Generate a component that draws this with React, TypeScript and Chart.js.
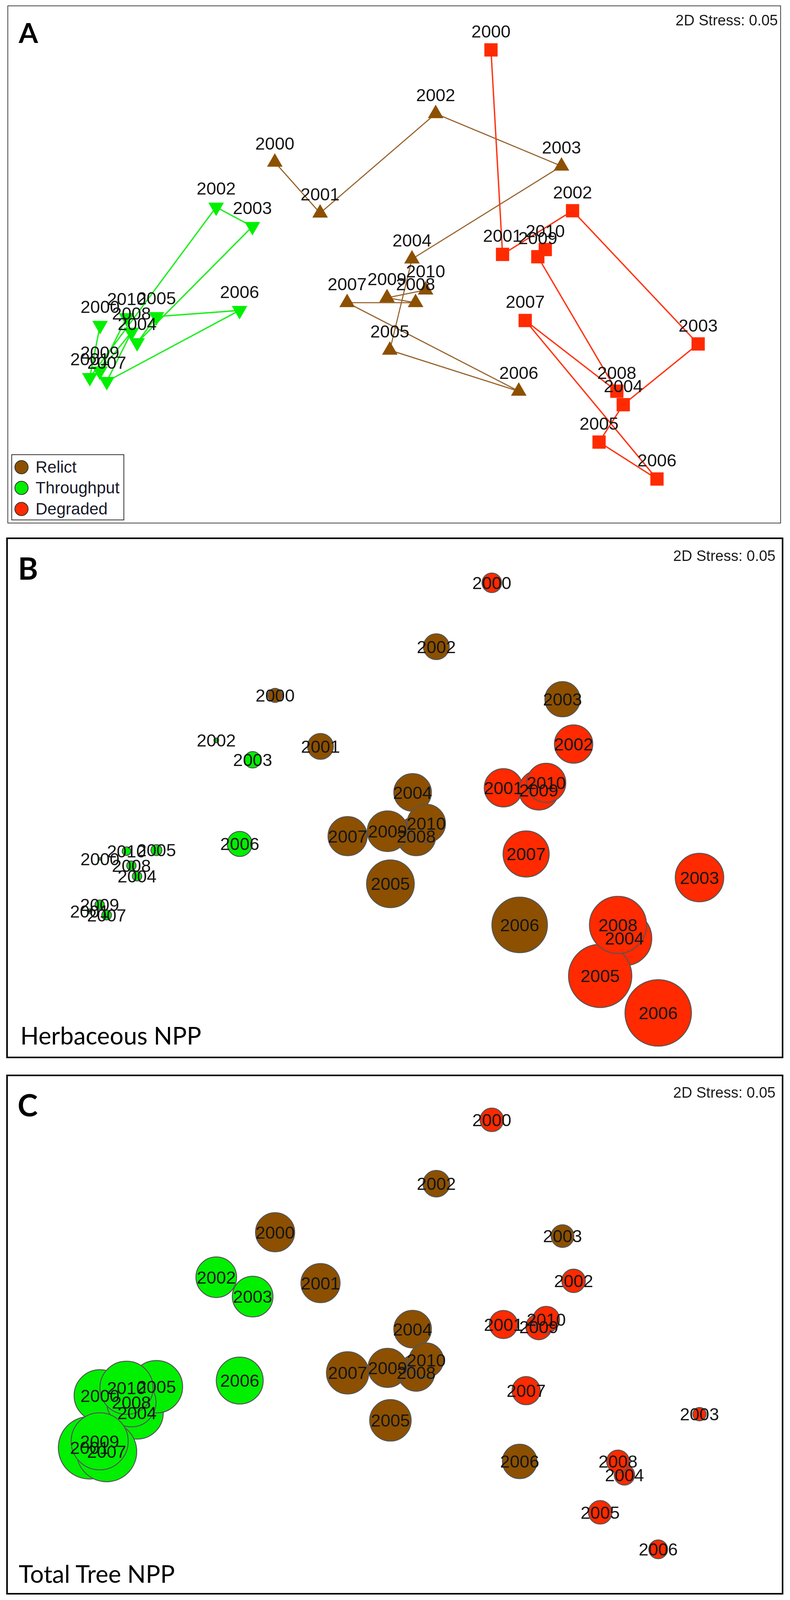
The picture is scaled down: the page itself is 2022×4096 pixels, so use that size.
import React, { useEffect, useRef } from 'react';
import { Chart, registerables } from 'chart.js';

Chart.register(...registerables);

// ---- Data (MDS ordination coordinates, shared by all three panels) ----
const YEARS = ['2000', '2001', '2002', '2003', '2004', '2005', '2006', '2007', '2008', '2009', '2010'];

const RELICT_X = [-0.464, -0.288, 0.161, 0.65, 0.069, -0.017, 0.484, -0.183, 0.083, -0.028, 0.122];
const RELICT_Y = [0.396, 0.199, 0.584, 0.381, 0.021, -0.332, -0.491, -0.148, -0.148, -0.129, -0.099];

const THROUGHPUT_X = [-1.143, -1.183, -0.692, -0.551, -0.999, -0.924, -0.601, -1.117, -1.021, -1.144, -1.04];
const THROUGHPUT_Y = [-0.236, -0.438, 0.222, 0.147, -0.303, -0.202, -0.178, -0.453, -0.262, -0.413, -0.206];

const DEGRADED_X = [0.376, 0.421, 0.693, 1.181, 0.89, 0.796, 1.021, 0.509, 0.865, 0.558, 0.587];
const DEGRADED_Y = [0.831, 0.039, 0.208, -0.308, -0.543, -0.688, -0.831, -0.217, -0.491, 0.03, 0.058];

// Bubble magnitudes (relative NPP)
const HERB_RELICT = [1.8, 3.3, 3.3, 4.5, 4.8, 6.1, 7.1, 5.0, 5.0, 5.2, 4.9];
const HERB_THROUGHPUT = [0.3, 0.6, 0.6, 2.1, 1.2, 1.4, 3.2, 1.25, 1.2, 1.2, 1.1];
const HERB_DEGRADED = [2.5, 4.9, 4.9, 6.2, 7.0, 8.1, 8.5, 5.9, 7.3, 5.1, 5.0];

const TREE_RELICT = [5.0, 5.0, 3.4, 2.9, 4.8, 5.3, 4.4, 5.4, 4.7, 5.0, 4.4];
const TREE_THROUGHPUT = [6.6, 8.0, 5.2, 5.2, 6.7, 6.7, 6.0, 7.7, 6.3, 7.3, 6.8];
const TREE_DEGRADED = [3.0, 3.6, 3.0, 1.7, 2.6, 3.0, 2.4, 3.6, 2.9, 3.3, 3.4];

const GROUPS = ['Relict', 'Throughput', 'Degraded'];

// ---- Styles ----
const COLORS = { relict: '#8C5000', throughput: '#00F000', degraded: '#FF2A00' };
const LINE_COLORS = { relict: '#96612A', throughput: '#1EEE1E', degraded: '#FF3514' };
const BUBBLE_PX = 10;
const LABEL_FONT = '45px "Liberation Sans", Arial, sans-serif';

function pts(xs: number[], ys: number[]) {
  return xs.map((x, i) => ({ x, y: ys[i] }));
}
function bubbles(xs: number[], ys: number[], vs: number[]) {
  return xs.map((x, i) => ({ x, y: ys[i], r: vs[i] * BUBBLE_PX }));
}

const yearLabels = {
  id: 'yearLabels',
  afterDatasetDraw(chart: any, args: any, opts: any) {
    const ctx = chart.ctx;
    ctx.save();
    ctx.font = LABEL_FONT;
    ctx.fillStyle = opts.color || '#111';
    ctx.textAlign = 'center';
    ctx.textBaseline = 'alphabetic';
    args.meta.data.forEach((el: any, i: number) => {
      ctx.fillText(YEARS[i], el.x, el.y + (opts.dy || 0));
    });
    ctx.restore();
  },
};

const baseOptions = (dy: number) => ({
  animation: false,
  responsive: false,
  events: [],
  layout: { padding: 0, autoPadding: false },
  scales: {
    x: { type: 'linear', min: -1.5, max: 1.5, display: false },
    y: { type: 'linear', min: -1, max: 1, display: false },
  },
  plugins: {
    legend: { display: false },
    tooltip: { enabled: false },
    yearLabels: { dy, color: '#151515' },
  },
});

function trajectoryConfig() {
  return {
    type: 'scatter',
    data: {
      datasets: [
        {
          label: 'Degraded',
          data: pts(DEGRADED_X, DEGRADED_Y),
          showLine: true,
          tension: 0,
          borderColor: LINE_COLORS.degraded,
          borderWidth: 3.5,
          pointStyle: 'rect',
          pointRadius: 24,
          pointBackgroundColor: COLORS.degraded,
          pointBorderWidth: 0,
          clip: false,
        },
        {
          label: 'Relict',
          data: pts(RELICT_X, RELICT_Y),
          showLine: true,
          tension: 0,
          borderColor: LINE_COLORS.relict,
          borderWidth: 2.8,
          pointStyle: 'triangle',
          pointRadius: 23,
          pointBackgroundColor: COLORS.relict,
          pointBorderWidth: 0,
          clip: false,
        },
        {
          label: 'Throughput',
          data: pts(THROUGHPUT_X, THROUGHPUT_Y),
          showLine: true,
          tension: 0,
          borderColor: LINE_COLORS.throughput,
          borderWidth: 3.5,
          pointStyle: 'triangle',
          pointRotation: 180,
          pointRadius: 23,
          pointBackgroundColor: COLORS.throughput,
          pointBorderWidth: 0,
          clip: false,
        },
      ],
    },
    options: baseOptions(-32),
    plugins: [yearLabels],
  };
}

function bubbleConfig(rel: number[], thr: number[], deg: number[]) {
  const common = { borderColor: '#555555', borderWidth: 2.5, clip: false };
  return {
    type: 'bubble',
    data: {
      datasets: [
        { label: 'Degraded', data: bubbles(DEGRADED_X, DEGRADED_Y, deg), backgroundColor: COLORS.degraded, ...common },
        { label: 'Relict', data: bubbles(RELICT_X, RELICT_Y, rel), backgroundColor: COLORS.relict, ...common },
        { label: 'Throughput', data: bubbles(THROUGHPUT_X, THROUGHPUT_Y, thr), backgroundColor: COLORS.throughput, ...common },
      ],
    },
    options: baseOptions(16),
    plugins: [yearLabels],
  };
}

function ChartCanvas({ width, height, make }: { width: number; height: number; make: () => any }) {
  const ref = useRef<HTMLCanvasElement | null>(null);
  useEffect(() => {
    const chart = new Chart(ref.current as HTMLCanvasElement, make());
    return () => chart.destroy();
  }, []);
  return <canvas ref={ref} width={width} height={height} style={{ display: 'block', width, height }} />;
}

const abs = (s: any) => ({ position: 'absolute', margin: 0, whiteSpace: 'nowrap', ...s });
const LIB = '"Liberation Sans", Arial, sans-serif';
const LATO = 'Lato, "Open Sans", sans-serif';

function Panel({ left, top, width, height, border, make }: any) {
  return (
    <div style={abs({ left, top, width, height, boxSizing: 'border-box', border, background: '#fff' })}>
      <ChartCanvas width={width - 2 * parseFloat(border)} height={height - 2 * parseFloat(border)} make={make} />
    </div>
  );
}

export default function App() {
  useEffect(() => {
    document.body.style.margin = '0';
  }, []);

  const stress = (right: number, baseline: number) => (
    <div style={abs({ right: 2022 - right, top: baseline - 0.8465 * 38, font: `38px ${LIB}`, lineHeight: '38px', color: '#1a1a1a', textAlign: 'right' })}>
      2D Stress: 0.05
    </div>
  );
  const letter = (t: string, l: number, baseline: number, size: number) => (
    <div style={abs({ left: l, top: baseline - 0.887 * size, font: `bold ${size}px ${LATO}`, lineHeight: `${size}px`, color: '#000' })}>{t}</div>
  );
  const caption = (t: string, l: number, baseline: number) => (
    <div style={abs({ left: l, top: baseline - 0.887 * 62, font: `62px ${LATO}`, lineHeight: '62px', color: '#000' })}>{t}</div>
  );
  const legendColors = [COLORS.relict, COLORS.throughput, COLORS.degraded];
  const legendY = [1196, 1249, 1303];

  return (
    <div style={{ position: 'relative', width: 2022, height: 4096, background: '#fff', overflow: 'hidden' }}>
      <Panel left={19} top={14} width={1980} height={1326} border="2px solid #444" make={trajectoryConfig} />
      <Panel left={16} top={1376} width={1989} height={1333} border="4px solid #000" make={() => bubbleConfig(HERB_RELICT, HERB_THROUGHPUT, HERB_DEGRADED)} />
      <Panel left={16} top={2751} width={1989} height={1331} border="4px solid #000" make={() => bubbleConfig(TREE_RELICT, TREE_THROUGHPUT, TREE_DEGRADED)} />

      {letter('A', 48, 110, 71)}
      {letter('B', 46, 1484, 78)}
      {letter('C', 45, 2858, 78)}

      {stress(1991, 65)}
      {stress(1985, 1436)}
      {stress(1985, 2810)}

      {caption('Herbaceous NPP', 52, 2674)}
      {caption('Total Tree NPP', 48, 4052)}

      <div style={abs({ left: 29, top: 1163, width: 289, height: 169, boxSizing: 'border-box', border: '2px solid #333', background: '#fff' })} />
      {GROUPS.map((g, i) => (
        <React.Fragment key={g}>
          <div style={abs({ left: 55 - 18, top: legendY[i] - 18, width: 36, height: 36, boxSizing: 'border-box', borderRadius: '50%', border: '2px solid #333', background: legendColors[i] })} />
          <div style={abs({ left: 91, top: legendY[i] + 15 - 0.8465 * 42, font: `42px ${LIB}`, lineHeight: '42px', color: '#1a1a2a' })}>{g}</div>
        </React.Fragment>
      ))}
    </div>
  );
}
